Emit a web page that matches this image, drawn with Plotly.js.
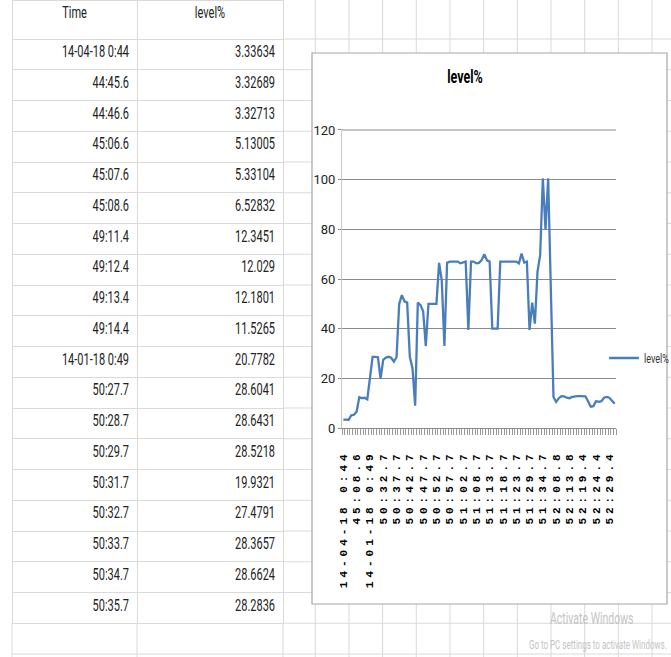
<!DOCTYPE html>
<html>
<head>
<meta charset="utf-8">
<script src="https://cdn.plot.ly/plotly-3.0.1.min.js"></script>
<style>
  html, body { margin: 0; padding: 0; background: #ffffff; }
  #chart { width: 671px; height: 657px; }
  .xtick text { letter-spacing: 4px; }
  text.cell-text, text.gtitle, text.legendtext, text.annotation-text {
    transform-box: fill-box; transform-origin: center; scale: 1 1.5;
  }
</style>
</head>
<body>
<div id="chart"></div>
<script>
// ---------- data ----------
const seriesName = 'level%';
const tableHeader = ['Time', 'level%'];
const tableTimes = ['14-04-18 0:44', '44:45.6', '44:46.6', '45:06.6', '45:07.6', '45:08.6',
  '49:11.4', '49:12.4', '49:13.4', '49:14.4', '14-01-18 0:49', '50:27.7', '50:28.7',
  '50:29.7', '50:31.7', '50:32.7', '50:33.7', '50:34.7', '50:35.7'];
const levelValues = [
  3.33634, 3.32689, 3.32713, 5.13005, 5.33104, 6.52832, 12.3451, 12.029, 12.1801, 11.5265,
  20.7782, 28.6041, 28.6431, 28.5218, 19.9321, 27.4791, 28.3657, 28.6624, 28.2836,
  26.7, 28.5, 50, 53.5, 51, 50.5, 28.7, 24, 9, 50.5, 49.5,
  47, 33, 50, 50, 50, 50, 66.5, 59.5, 33, 66.5,
  67, 67, 67, 67, 66.3, 66.5, 67, 39.5, 67, 67,
  66.3, 66.5, 67.6, 70, 67.5, 67, 40, 40, 40, 67,
  67, 67, 67, 67, 67, 67, 66.3, 70.2, 66.6, 67,
  39.5, 50.5, 42, 63, 69.7, 100.5, 80, 100.5, 56, 12.5,
  10.5, 12, 12.8, 12.7, 12.2, 12, 12.5, 12.8, 12.8, 12.8,
  12.8, 12.7, 10.8, 8.6, 8.8, 10.8, 10.5, 10.8, 12.2, 12.5,
  12.2, 11.2, 9.8
];
const tickLabels = ['14-04-18 0:44', '45:08.6', '14-01-18 0:49', '50:32.7', '50:37.7', '50:42.7',
  '50:47.7', '50:52.7', '50:57.7', '51:02.7', '51:08.7', '51:13.7', '51:18.7', '51:23.7',
  '51:29.7', '51:34.7', '52:08.8', '52:13.8', '52:19.4', '52:24.4', '52:29.4'];
const tickStep = 5;
const yMax = 120, yStep = 20;
const watermark = ['Activate Windows', 'Go to PC settings to activate Windows.'];

// ---------- layout helpers (page pixels -> paper fractions) ----------
const W = 671, H = 657;
const fx = v => v / W;
const fy = v => 1 - v / H;
const sheetFont = "Roboto, 'Liberation Sans', sans-serif";
const rowTop = 39, rowPitch = 30.75;
const tableLeft = 12, tableSplit = 137, tableRight = 283;
const plotLeft = 342, plotRight = 616;
const gridColor = '#8a8a8a';

const xIdx = levelValues.map((_, i) => i);
const tickVals = tickLabels.map((_, k) => k * tickStep);
const boundaries = [];
for (let i = 0; i <= levelValues.length; i++) boundaries.push(i - 0.5);

// spreadsheet background grid (outside the table) and the chart frame
const gridCol = '#dadada';
const shapes = [];
const nRows = tableTimes.length + 2;
for (let k = 0; k < nRows; k++) {
  const y = rowTop + k * rowPitch;
  const x0 = k > tableTimes.length ? tableLeft : tableRight;
  shapes.push({type: 'line', xref: 'paper', yref: 'paper', x0: fx(x0), x1: 1, y0: fy(y), y1: fy(y),
    line: {color: gridCol, width: 1}, layer: 'below'});
}
const tableBottom = rowTop + tableTimes.length * rowPitch;
[tableLeft, tableSplit, tableRight].forEach(x => {
  shapes.push({type: 'line', xref: 'paper', yref: 'paper', x0: fx(x), x1: fx(x), y0: 0, y1: fy(tableBottom),
    line: {color: gridCol, width: 1}, layer: 'below'});
});
for (let k = 0; k < 11; k++) {
  const x = 315.3 + k * 33.67;
  shapes.push({type: 'line', xref: 'paper', yref: 'paper', x0: fx(x), x1: fx(x), y0: 0, y1: 1,
    line: {color: gridCol, width: 1}, layer: 'below'});
}
shapes.push({type: 'rect', xref: 'paper', yref: 'paper', x0: fx(312), x1: fx(667), y0: fy(604), y1: fy(53),
  line: {color: '#a6a6a6', width: 1.2}, fillcolor: '#ffffff', layer: 'below'});
// top gridline at the axis maximum (drawn through the y scale)
shapes.push({type: 'line', xref: 'paper', yref: 'y', x0: fx(plotLeft), x1: fx(plotRight), y0: yMax, y1: yMax,
  line: {color: gridColor, width: 1}, layer: 'below'});

const tableTrace = {
  type: 'table',
  domain: {x: [fx(tableLeft), fx(tableRight)], y: [0, 1]},
  columnwidth: [tableSplit - tableLeft, tableRight - tableSplit],
  header: {
    values: tableHeader.map(h => [h]),
    align: 'center',
    height: rowTop,
    fill: {color: '#ffffff'},
    line: {color: gridCol, width: 1},
    font: {family: sheetFont, size: 11, color: '#222222'}
  },
  cells: {
    values: [tableTimes, levelValues.slice(0, tableTimes.length).map(v => String(v))],
    align: 'right',
    height: rowPitch,
    fill: {color: '#ffffff'},
    line: {color: gridCol, width: 1},
    font: {family: sheetFont, size: 11, color: '#222222'}
  }
};

const lineTrace = {
  type: 'scatter',
  mode: 'lines',
  name: seriesName,
  x: xIdx,
  y: levelValues,
  line: {color: '#4a7ebb', width: 2.3},
  xaxis: 'x', yaxis: 'y'
};

const layout = {
  width: W, height: H,
  margin: {l: 0, r: 0, t: 0, b: 0, autoexpand: false},
  paper_bgcolor: 'rgba(0,0,0,0)',
  plot_bgcolor: 'rgba(0,0,0,0)',
  title: {
    text: '<b>level%</b>',
    xref: 'container', yref: 'container',
    x: fx(465), y: fy(76), xanchor: 'center', yanchor: 'middle',
    font: {family: sheetFont, size: 12.5, color: '#000000'}
  },
  xaxis: {
    domain: [fx(plotLeft), fx(plotRight)],
    range: [-0.5, levelValues.length - 0.5],
    tickmode: 'array',
    tickvals: tickVals,
    ticktext: tickLabels,
    tickangle: -90,
    ticks: '',
    ticklabelstandoff: 17,
    tickfont: {family: "'Liberation Mono', 'DejaVu Sans Mono', monospace", size: 11, color: '#000000', weight: 'bold'},
    showgrid: false,
    zeroline: false,
    showline: true,
    linecolor: '#8c8c8c',
    linewidth: 1,
    minor: {tickmode: 'array', tickvals: boundaries, ticks: 'outside', ticklen: 6, tickcolor: '#9a9a9a', tickwidth: 1, showgrid: false},
    fixedrange: true
  },
  yaxis: {
    domain: [fy(428), fy(129)],
    range: [0, yMax + 0.4],
    tickmode: 'linear',
    dtick: yStep,
    tick0: 0,
    showgrid: true,
    gridcolor: gridColor,
    gridwidth: 1,
    zeroline: false,
    showline: true,
    linecolor: '#c8c8c8',
    ticks: 'outside',
    ticklen: 3,
    tickcolor: '#8a8a8a',
    tickfont: {family: sheetFont, size: 13, color: '#222222'},
    fixedrange: true
  },
  showlegend: true,
  legend: {
    x: fx(604), y: fy(358), xanchor: 'left', yanchor: 'middle',
    bgcolor: 'rgba(0,0,0,0)',
    font: {family: sheetFont, size: 9, color: '#333333'}
  },
  shapes: shapes,
  annotations: [
    {text: watermark[0], xref: 'paper', yref: 'paper', x: fx(548), y: fy(619), xanchor: 'left', yanchor: 'middle',
      showarrow: false, font: {family: sheetFont, size: 10.5, color: '#c4c4c4'}},
    {text: watermark[1], xref: 'paper', yref: 'paper', x: fx(669), y: fy(644), xanchor: 'right', yanchor: 'middle',
      showarrow: false, font: {family: sheetFont, size: 8, color: '#c4c4c4'}}
  ]
};

Plotly.newPlot('chart', [tableTrace, lineTrace], layout, {staticPlot: true, displayModeBar: false});
</script>
</body>
</html>
